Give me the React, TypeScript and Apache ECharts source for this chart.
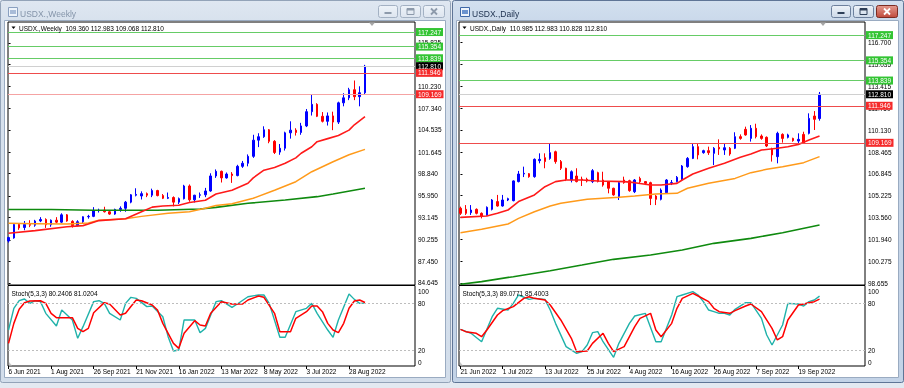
import React, { useEffect, useRef } from 'react';
import * as echarts from 'echarts';

// ---------------- data ----------------
const TICK_STEP = 8;
const weeklyTickLabels = ['6 Jun 2021', '1 Aug 2021', '26 Sep 2021', '21 Nov 2021', '16 Jan 2022', '13 Mar 2022', '8 May 2022', '3 Jul 2022', '28 Aug 2022'];
const dailyTickLabels = ['21 Jun 2022', '1 Jul 2022', '13 Jul 2022', '25 Jul 2022', '4 Aug 2022', '16 Aug 2022', '26 Aug 2022', '7 Sep 2022', '19 Sep 2022'];

const weeklyPriceTicks = [84.645, 87.45, 90.255, 93.145, 95.95, 98.84, 101.645, 104.535, 107.34, 110.23, 113.035, 115.825];
const dailyPriceTicks = [98.655, 100.275, 101.94, 103.56, 105.225, 106.845, 108.465, 110.13, 111.75, 113.415, 115.035, 116.7];

const resistanceLevels = [117.247, 115.354, 113.839];
const supportLevels = [111.946, 109.169];

const weeklyOpen = [90.1, 90.5, 92.25, 91.85, 92.25, 92.15, 92.7, 92.9, 92.2, 92.8, 92.55, 93.5, 92.65, 92.1, 92.6, 93.25, 93.3, 94.05, 94.1, 93.9, 93.6, 94.2, 94.35, 95.15, 96.05, 95.95, 96.25, 96.05, 96.65, 96.0, 95.65, 95.75, 95.15, 95.6, 97.25, 95.45, 96.05, 96.1, 96.6, 98.55, 99.15, 98.3, 98.8, 98.6, 99.8, 100.2, 101.1, 103.2, 103.65, 104.55, 103.05, 101.65, 102.15, 104.15, 104.5, 104.2, 105.05, 106.9, 107.85, 106.3, 105.65, 106.35, 105.55, 108.05, 108.7, 109.75, 108.85, 109.36];
const weeklyClose = [90.55, 92.25, 91.8, 92.25, 92.15, 92.7, 92.9, 92.2, 92.8, 92.55, 93.5, 92.7, 92.1, 92.6, 93.25, 93.3, 94.05, 94.1, 93.9, 93.6, 94.2, 94.35, 95.15, 96.1, 96.15, 96.25, 96.05, 96.65, 96.0, 95.65, 95.75, 95.15, 95.6, 97.25, 95.45, 96.05, 96.1, 96.6, 98.55, 99.15, 98.3, 98.8, 98.6, 99.8, 100.2, 101.1, 103.2, 103.65, 104.55, 103.05, 101.6, 102.15, 104.15, 104.5, 104.2, 105.05, 106.9, 107.85, 106.3, 105.65, 106.35, 105.55, 108.05, 108.7, 109.75, 108.85, 109.36, 112.81];
const weeklyLow = [89.9, 90.4, 91.55, 91.5, 91.9, 91.95, 92.55, 91.8, 91.95, 92.4, 92.45, 92.6, 91.85, 92.0, 92.35, 93.0, 93.2, 93.8, 93.8, 93.5, 93.5, 93.9, 93.9, 95.0, 95.9, 95.5, 95.8, 95.8, 95.9, 95.55, 95.55, 94.6, 94.9, 95.5, 95.2, 95.1, 95.7, 95.8, 96.5, 98.3, 97.7, 98.2, 97.65, 98.5, 99.6, 99.8, 100.9, 102.3, 103.5, 102.8, 101.4, 101.3, 101.85, 103.4, 103.8, 103.9, 104.9, 106.4, 106.2, 105.5, 105.1, 104.5, 105.3, 107.6, 108.4, 108.4, 107.6, 109.068];
const weeklyHigh = [90.65, 92.4, 92.4, 92.7, 92.8, 92.85, 93.2, 93.05, 92.9, 93.2, 93.7, 93.6, 92.8, 92.8, 93.3, 93.5, 94.5, 94.3, 94.55, 94.0, 94.3, 94.6, 95.3, 96.2, 96.95, 96.55, 96.4, 96.9, 96.75, 96.2, 96.4, 95.9, 95.75, 97.4, 97.45, 96.1, 96.4, 97.0, 98.9, 99.4, 99.25, 99.0, 99.05, 100.0, 100.5, 101.35, 103.9, 104.1, 105.0, 104.65, 103.2, 102.7, 104.3, 105.65, 104.75, 105.45, 107.25, 109.1, 108.0, 106.85, 106.8, 106.9, 108.2, 109.3, 110.0, 110.95, 110.2, 112.983];

const dailyOpen = [104.26, 104.18, 103.93, 104.18, 103.88, 103.76, 104.18, 104.76, 104.43, 104.88, 104.83, 106.26, 106.83, 106.85, 106.63, 107.83, 108.05, 108.0, 108.5, 107.76, 107.26, 106.38, 106.68, 106.45, 106.43, 106.26, 106.93, 106.38, 106.26, 105.76, 105.13, 106.38, 106.33, 105.5, 106.5, 106.26, 106.18, 105.18, 104.93, 105.43, 106.15, 106.26, 106.38, 107.38, 108.0, 108.88, 108.43, 108.58, 108.38, 108.83, 108.63, 108.76, 108.76, 109.63, 110.18, 109.5, 110.26, 109.68, 109.58, 108.68, 108.13, 109.8, 109.58, 109.5, 109.3, 109.8, 109.88, 111.18, 110.985];
const dailyClose = [103.88, 103.88, 104.13, 103.88, 103.68, 104.33, 104.88, 104.43, 104.88, 104.98, 106.31, 106.83, 106.88, 106.63, 107.93, 107.93, 107.76, 108.43, 107.76, 107.26, 106.43, 107.0, 106.26, 106.38, 106.3, 107.08, 106.26, 106.0, 105.76, 105.26, 106.18, 106.18, 105.58, 106.38, 106.26, 106.13, 105.0, 104.93, 105.63, 106.38, 106.18, 106.58, 107.43, 108.0, 108.88, 108.26, 108.58, 108.43, 108.76, 108.71, 108.8, 108.33, 109.63, 109.5, 109.76, 110.26, 109.63, 109.5, 108.93, 108.26, 109.88, 109.5, 109.76, 109.33, 109.43, 109.13, 111.0, 110.93, 112.81];
const dailyLow = [103.76, 103.76, 103.76, 103.8, 103.5, 103.7, 104.1, 104.38, 104.38, 104.8, 104.78, 106.2, 106.6, 106.55, 106.55, 107.63, 107.26, 107.9, 107.6, 107.13, 106.3, 106.2, 106.2, 105.93, 106.2, 106.15, 106.2, 105.88, 105.38, 105.2, 104.88, 106.1, 105.5, 105.4, 106.15, 106.0, 104.5, 104.5, 104.85, 105.35, 106.0, 106.2, 106.3, 107.3, 107.95, 107.93, 108.35, 108.26, 107.5, 108.26, 108.26, 108.2, 108.7, 109.4, 109.7, 109.26, 109.5, 109.4, 108.85, 107.76, 107.63, 109.18, 109.5, 109.25, 109.13, 109.08, 109.8, 110.13, 110.828];
const dailyHigh = [104.38, 104.5, 104.5, 104.25, 103.95, 104.4, 104.95, 105.26, 105.26, 105.05, 106.35, 107.06, 107.38, 106.9, 108.0, 108.38, 108.38, 109.13, 108.58, 107.88, 107.3, 107.1, 107.26, 106.63, 106.55, 107.2, 107.0, 107.0, 106.3, 105.8, 106.25, 106.63, 106.4, 106.45, 106.63, 106.3, 106.25, 105.25, 105.75, 106.45, 106.38, 106.68, 107.5, 108.1, 109.08, 109.13, 108.65, 108.88, 108.85, 109.43, 109.13, 108.85, 109.96, 109.8, 110.38, 110.5, 110.6, 109.8, 109.65, 108.8, 110.0, 109.88, 109.85, 109.55, 109.88, 110.0, 111.38, 111.55, 112.983];

// moving averages: [bar index, value]
const weeklyMaFast = [[0, 91.1], [5, 91.45], [11, 91.96], [14, 92.1], [15, 92.3], [17, 92.75], [22, 93.0], [25, 93.9], [27, 94.5], [29, 94.65], [32, 94.75], [34, 95.1], [36, 95.3], [37, 95.4], [39, 96.2], [42, 96.7], [45, 97.6], [46, 98.3], [48, 99.3], [50, 99.65], [52, 100.2], [54, 100.9], [55, 101.5], [57, 102.35], [58, 103.0], [60, 103.4], [62, 103.8], [64, 104.5], [65, 105.2], [67, 106.25]];
const weeklyMaMid = [[0, 92.4], [5, 92.35], [11, 92.3], [15, 92.45], [17, 92.8], [22, 93.0], [25, 93.3], [30, 93.7], [34, 93.9], [37, 94.35], [39, 94.7], [42, 94.95], [46, 95.65], [50, 96.7], [54, 97.8], [57, 99.1], [61, 100.4], [64, 101.3], [67, 102.0]];
const weeklyMaSlow = [[0, 94.2], [8, 94.2], [16, 94.1], [28, 94.1], [36, 94.25], [39, 94.47], [45, 95.0], [52, 95.43], [58, 95.86], [61, 96.2], [67, 96.95]];

const dailyMaFast = [[0, 103.58], [5, 103.68], [7, 103.88], [9, 104.13], [11, 104.76], [14, 105.26], [16, 105.88], [18, 106.26], [20, 106.38], [23, 106.38], [26, 106.3], [31, 106.26], [33, 106.18], [36, 106.0], [38, 106.0], [41, 106.13], [42, 106.38], [44, 106.83], [47, 107.26], [50, 107.63], [53, 108.08], [55, 108.33], [57, 108.63], [60, 108.76], [62, 108.88], [64, 109.05], [66, 109.38], [68, 109.68]];
const dailyMaMid = [[0, 102.43], [4, 102.68], [9, 103.08], [11, 103.5], [14, 104.0], [17, 104.43], [19, 104.63], [24, 104.93], [30, 105.08], [33, 105.18], [37, 105.33], [41, 105.38], [43, 105.76], [47, 106.13], [52, 106.5], [55, 106.93], [58, 107.18], [61, 107.38], [65, 107.68], [68, 108.13]];
const dailyMaSlow = [[0, 98.56], [4, 98.76], [10, 99.13], [17, 99.58], [23, 100.0], [29, 100.43], [36, 100.76], [42, 101.13], [48, 101.63], [55, 102.0], [61, 102.43], [68, 103.0]];

// stochastic (5,3,3): [bar index, value]
const weeklyStochMain = [[0, 45.9], [1, 73.6], [2, 83.3], [3, 85.5], [4, 79.9], [5, 83.3], [6, 82.1], [7, 67.2], [9, 51.0], [10, 71.4], [11, 65.1], [12, 58.7], [13, 35.3], [14, 50.2], [16, 82.1], [17, 83.3], [18, 79.9], [19, 67.2], [21, 58.7], [22, 79.9], [23, 87.6], [24, 86.3], [26, 75.7], [27, 76.5], [29, 62.9], [30, 37.4], [31, 19.1], [32, 20.4], [33, 58.7], [35, 58.7], [36, 42.5], [37, 48.0], [39, 82.1], [40, 83.3], [42, 74.8], [43, 79.1], [45, 88.4], [47, 90.6], [48, 90.6], [49, 79.9], [51, 36.6], [52, 36.6], [54, 69.3], [56, 73.6], [57, 79.9], [58, 67.2], [60, 45.9], [61, 36.6], [62, 58.7], [64, 91.8], [65, 85.0], [66, 79.9], [67, 80.2406]];
const weeklyStochSignal = [[0, 28.9], [1, 54.4], [2, 72.3], [3, 80.8], [4, 82.9], [6, 83.3], [7, 79.9], [8, 67.2], [9, 61.7], [11, 61.7], [12, 61.7], [13, 48.0], [14, 43.8], [15, 48.0], [16, 68.0], [18, 80.8], [19, 79.1], [21, 65.1], [22, 67.2], [23, 76.0], [24, 84.2], [25, 83.3], [27, 77.8], [28, 71.4], [29, 54.4], [31, 28.9], [32, 22.5], [33, 41.7], [35, 57.8], [36, 52.3], [37, 51.0], [38, 67.2], [40, 82.1], [42, 79.1], [44, 79.1], [45, 84.2], [47, 89.3], [48, 87.6], [50, 67.2], [51, 43.8], [53, 43.8], [54, 60.8], [56, 69.3], [57, 76.5], [58, 76.5], [59, 69.3], [60, 54.4], [61, 45.9], [62, 42.5], [63, 54.4], [64, 73.6], [65, 82.9], [66, 84.2], [67, 81.0204]];
const dailyStochMain = [[0, 46.8], [2, 41.7], [4, 31.0], [6, 62.9], [7, 73.6], [9, 71.4], [10, 79.9], [11, 90.6], [13, 85.0], [14, 86.3], [16, 85.0], [17, 71.4], [18, 54.4], [20, 24.7], [22, 16.2], [23, 18.3], [24, 26.8], [25, 42.5], [26, 43.8], [27, 31.0], [29, 11.1], [30, 28.9], [32, 54.4], [33, 63.8], [35, 67.2], [37, 31.0], [38, 31.0], [40, 65.1], [41, 88.4], [42, 90.6], [44, 94.8], [45, 90.6], [46, 82.1], [47, 71.4], [48, 69.3], [49, 67.2], [50, 67.2], [51, 65.1], [52, 72.3], [54, 80.8], [55, 80.8], [57, 60.8], [58, 39.5], [59, 26.8], [60, 39.5], [61, 52.3], [62, 79.9], [64, 79.1], [65, 76.5], [66, 82.1], [67, 84.2], [68, 89.0771]];
const dailyStochSignal = [[0, 46.8], [1, 43.8], [3, 41.7], [4, 37.4], [5, 45.9], [7, 65.1], [8, 70.6], [10, 75.7], [12, 86.3], [13, 88.4], [14, 86.3], [16, 84.2], [17, 77.8], [19, 58.7], [21, 35.3], [22, 18.3], [24, 19.1], [25, 28.9], [27, 41.7], [28, 28.9], [29, 18.3], [31, 24.7], [33, 50.2], [34, 60.8], [36, 67.2], [37, 45.9], [38, 37.4], [40, 54.4], [41, 73.6], [42, 86.3], [44, 92.7], [45, 89.3], [47, 82.1], [48, 73.6], [49, 69.3], [51, 67.2], [52, 70.6], [54, 76.5], [55, 79.1], [57, 69.3], [59, 48.0], [60, 33.2], [61, 37.4], [62, 58.7], [64, 77.8], [65, 79.1], [66, 80.8], [67, 82.1], [68, 85.4003]];

const stochLevels = [20, 80];
const stochLabels = [0, 20, 80, 100];

// ---------------- layout / style ----------------
const FONT = '"Liberation Sans", Arial, sans-serif';
const FS = 6.5;

type Panel = {
  left: number; width: number; xMin: number; xMax: number;
  yMin: number; yMax: number; priceTicks: number[]; tickLabels: string[];
  open: number[]; close: number[]; low: number[]; high: number[];
  maFast: number[][]; maMid: number[][]; maSlow: number[][];
  stMain: number[][]; stSignal: number[][];
  name: string; pale109: boolean; markerX: number;
};

const panels: Panel[] = [
  {
    left: 8, width: 407, xMin: -0.1, xMax: 76.4, yMin: 84.385, yMax: 118.551,
    priceTicks: weeklyPriceTicks, tickLabels: weeklyTickLabels,
    open: weeklyOpen, close: weeklyClose, low: weeklyLow, high: weeklyHigh,
    maFast: weeklyMaFast, maMid: weeklyMaMid, maSlow: weeklyMaSlow,
    stMain: weeklyStochMain, stSignal: weeklyStochSignal, name: 'USDX.,Weekly', pale109: true, markerX: 372,
  },
  {
    left: 459, width: 406, xMin: -0.28, xMax: 76.61, yMin: 98.505, yMax: 118.23,
    priceTicks: dailyPriceTicks, tickLabels: dailyTickLabels,
    open: dailyOpen, close: dailyClose, low: dailyLow, high: dailyHigh,
    maFast: dailyMaFast, maMid: dailyMaMid, maSlow: dailyMaSlow,
    stMain: dailyStochMain, stSignal: dailyStochSignal, name: 'USDX.,Daily', pale109: false, markerX: 823,
  },
];

function buildOption() {
  const grid: any[] = [];
  const xAxis: any[] = [];
  const yAxis: any[] = [];
  const series: any[] = [];
  const title: any[] = [];

  panels.forEach((p, k) => {
    const gMain = k * 2;
    const gSt = k * 2 + 1;
    grid.push({ left: p.left, top: 22, width: p.width, height: 263, show: true, borderColor: '#000', borderWidth: 1, backgroundColor: '#fff' });
    grid.push({ left: p.left, top: 285.5, width: p.width, height: 80.5, show: true, borderColor: '#000', borderWidth: 1, backgroundColor: '#fff' });

    const tickIdx = p.tickLabels.map((_, i) => i * TICK_STEP);
    xAxis.push({ gridIndex: gMain, type: 'value', min: p.xMin, max: p.xMax, show: false });
    xAxis.push({
      gridIndex: gSt, type: 'value', min: p.xMin, max: p.xMax,
      axisLine: { show: false }, splitLine: { show: false },
      axisTick: { show: true, customValues: tickIdx, length: 3, lineStyle: { color: '#000' } },
      axisLabel: {
        customValues: tickIdx, formatter: (v: number) => p.tickLabels[Math.round(v / TICK_STEP)] || '',
        align: 'left', margin: 2, fontSize: FS, color: '#000', fontFamily: FONT,
      },
    });
    yAxis.push({
      gridIndex: gMain, type: 'value', position: 'right', min: p.yMin, max: p.yMax,
      axisLine: { show: false }, splitLine: { show: false },
      axisTick: { show: true, customValues: p.priceTicks, length: 2, lineStyle: { color: '#000' } },
      axisLabel: { customValues: p.priceTicks, formatter: (v: number) => v.toFixed(3), margin: 3, fontSize: FS, color: '#000', fontFamily: FONT },
    });
    yAxis.push({
      gridIndex: gSt, type: 'value', position: 'right', min: 0, max: 102.7,
      axisLine: { show: false }, splitLine: { show: false }, axisTick: { show: false },
      axisLabel: {
        customValues: stochLabels, formatter: (v: number) => String(v), margin: 3, fontSize: FS, color: '#000', fontFamily: FONT,
        verticalAlignMinLabel: 'bottom', verticalAlignMaxLabel: 'top',
      },
    });

    const last = p.close.length - 1;
    const lastClose = p.close[last];
    const levelData: any[] = [
      ...resistanceLevels.map((v) => ({ yAxis: v, lineStyle: { color: '#66cc66' }, label: { backgroundColor: '#33c433' } })),
      { yAxis: lastClose, lineStyle: { color: '#d0d0d0' }, label: { backgroundColor: '#000' } },
      ...supportLevels.map((v, i) => ({
        yAxis: v,
        lineStyle: { color: p.pale109 && i === 1 ? '#f5a3a3' : '#ee4c4c' },
        label: { backgroundColor: '#f52a2a' },
      })),
    ];

    series.push({
      type: 'candlestick', xAxisIndex: gMain, yAxisIndex: gMain,
      data: p.open.map((o, i) => [i, o, p.close[i], p.low[i], p.high[i]]),
      barWidth: 2,
      itemStyle: { color: '#0000ff', color0: '#ff0000', borderColor: '#0000ff', borderColor0: '#ff0000', borderWidth: 1 },
      z: 3,
      markLine: {
        silent: true, symbol: ['none', 'none'], animation: false, precision: 3,
        lineStyle: { type: 'solid', width: 1 },
        label: {
          show: true, position: 'end', distance: 1, color: '#fff', fontSize: FS, fontFamily: FONT,
          padding: [1, 2, 0, 2], formatter: (q: any) => Number(q.data && q.data.yAxis != null ? q.data.yAxis : q.value).toFixed(3),
        },
        data: levelData,
      },
    });
    const ma = (data: number[][], color: string, w: number) => ({
      type: 'line', xAxisIndex: gMain, yAxisIndex: gMain, data, symbol: 'none', showSymbol: false,
      lineStyle: { color, width: w }, z: 4,
    });
    series.push(ma(p.maSlow, '#0f8a0f', 1.6));
    series.push(ma(p.maMid, '#ff9a1a', 1.5));
    series.push(ma(p.maFast, '#ff1a1a', 1.6));

    series.push({
      type: 'line', xAxisIndex: gSt, yAxisIndex: gSt, data: p.stMain, symbol: 'none', showSymbol: false,
      lineStyle: { color: '#20b2aa', width: 1.4 },
      markLine: {
        silent: true, symbol: ['none', 'none'], animation: false, label: { show: false },
        lineStyle: { color: '#bdbdbd', type: [2, 2], width: 1 },
        data: stochLevels.map((v) => ({ yAxis: v })),
      },
    });
    series.push({
      type: 'line', xAxisIndex: gSt, yAxisIndex: gSt, data: p.stSignal, symbol: 'none', showSymbol: false,
      lineStyle: { color: '#ff0000', width: 1.5 },
    });

    const header = `${p.name}  ${p.open[last].toFixed(3)} ${p.high[last].toFixed(3)} ${p.low[last].toFixed(3)} ${lastClose.toFixed(3)}`;
    const stHeader = `Stoch(5,3,3) ${p.stMain[p.stMain.length - 1][1].toFixed(4)} ${p.stSignal[p.stSignal.length - 1][1].toFixed(4)}`;
    const ts = { fontSize: FS, fontWeight: 'normal', color: '#000', fontFamily: FONT };
    title.push({ text: header, left: p.left + 11, top: 24.5, padding: 0, textStyle: ts });
    title.push({ text: stHeader, left: p.left + 3.5, top: 289.5, padding: 0, textStyle: ts });
  });

  // window chrome
  const g: any[] = [];
  g.push({ type: 'rect', z: -20, silent: true, shape: { x: 0, y: 0, width: 904, height: 388 }, style: { fill: '#e3e9f1' } });
  const windows = [
    { x: 0, w: 451, active: false, title: 'USDX.,Weekly' },
    { x: 452, w: 452, active: true, title: 'USDX.,Daily' },
  ];
  windows.forEach((wd) => {
    g.push({
      type: 'rect', z: -19, silent: true, shape: { x: wd.x + 0.5, y: 0.5, width: wd.w - 1, height: 382, r: 2 },
      style: {
        fill: new echarts.graphic.LinearGradient(0, 0, 0, 1, [
          { offset: 0, color: wd.active ? '#d3e0ef' : '#dfe7f1' },
          { offset: 0.06, color: wd.active ? '#c9d8ea' : '#d7e1ed' },
          { offset: 1, color: wd.active ? '#c3d3e7' : '#d3deeb' },
        ]),
        stroke: wd.active ? '#5f7596' : '#93a3b8', lineWidth: 1,
      },
    });
    g.push({ type: 'rect', z: -18, silent: true, shape: { x: wd.x + 4.5, y: 20.5, width: wd.w - 10, height: 357 }, style: { fill: '#ffffff', stroke: '#9aabc1', lineWidth: 1 } });
    // icon
    const ix = wd.x + 8;
    g.push({ type: 'rect', z: 10, silent: true, shape: { x: ix + 0.5, y: 7.5, width: 9, height: 9 }, style: { fill: '#eef4fb', stroke: wd.active ? '#3f68a8' : '#8aa0c0', lineWidth: 1 } });
    g.push({ type: 'rect', z: 10, silent: true, shape: { x: ix + 2, y: 10, width: 6, height: 4 }, style: { fill: wd.active ? '#6b93cf' : '#a9bcd8' } });
    g.push({
      type: 'text', z: 10, silent: true, x: wd.x + 20, y: 13.5,
      style: { text: wd.title, fontSize: 8.5, fontFamily: FONT, fill: wd.active ? '#1c2f4d' : '#8494a9', verticalAlign: 'middle' },
    });
    // buttons
    const bx = wd.x + wd.w - 73;
    const btns = [
      { x: bx, w: 19, kind: 'min' },
      { x: bx + 22, w: 20, kind: 'max' },
      { x: bx + 45, w: 21, kind: 'close' },
    ];
    btns.forEach((b) => {
      const red = b.kind === 'close' && wd.active;
      g.push({
        type: 'rect', z: 10, silent: true, shape: { x: b.x + 0.5, y: 5.5, width: b.w, height: 12, r: 2 },
        style: {
          fill: red
            ? new echarts.graphic.LinearGradient(0, 0, 0, 1, [{ offset: 0, color: '#e49a8f' }, { offset: 1, color: '#c04a3b' }])
            : new echarts.graphic.LinearGradient(0, 0, 0, 1, [{ offset: 0, color: '#eef3f9' }, { offset: 1, color: wd.active ? '#cdd9e8' : '#dde5ef' }]),
          stroke: red ? '#7c2c22' : wd.active ? '#6d809d' : '#a3b1c3', lineWidth: 1,
        },
      });
      const cx = b.x + 0.5 + b.w / 2;
      const gc = red ? '#ffffff' : wd.active ? '#2e3f58' : '#8d9aab';
      if (b.kind === 'min') {
        g.push({ type: 'rect', z: 11, silent: true, shape: { x: cx - 3.5, y: 12, width: 7, height: 2 }, style: { fill: gc } });
      } else if (b.kind === 'max') {
        g.push({ type: 'rect', z: 11, silent: true, shape: { x: cx - 3.5, y: 8.5, width: 7, height: 6 }, style: { fill: 'none', stroke: gc, lineWidth: 1 } });
        g.push({ type: 'rect', z: 11, silent: true, shape: { x: cx - 3.5, y: 8.5, width: 7, height: 2 }, style: { fill: gc } });
      } else {
        g.push({ type: 'line', z: 11, silent: true, shape: { x1: cx - 3, y1: 8.5, x2: cx + 3, y2: 14.5 }, style: { stroke: gc, lineWidth: 1.8 } });
        g.push({ type: 'line', z: 11, silent: true, shape: { x1: cx + 3, y1: 8.5, x2: cx - 3, y2: 14.5 }, style: { stroke: gc, lineWidth: 1.8 } });
      }
    });
  });
  panels.forEach((p) => {
    // small black triangle before the header and grey shift marker
    g.push({ type: 'polygon', z: 20, silent: true, shape: { points: [[p.left + 3.5, 26.5], [p.left + 7.5, 26.5], [p.left + 5.5, 29]] }, style: { fill: '#000' } });
    const mx = p.markerX;
    g.push({ type: 'polygon', z: 20, silent: true, shape: { points: [[mx - 3, 22.5], [mx + 3, 22.5], [mx, 26]] }, style: { fill: '#a8a8a8' } });
    // small marker at the stoch bottom-left
    g.push({ type: 'polygon', z: 20, silent: true, shape: { points: [[p.left + 1, 365.5], [p.left + 1, 362], [p.left + 4, 365.5]] }, style: { fill: '#c8c8c8' } });
  });

  return {
    animation: false,
    textStyle: { fontFamily: FONT },
    title, grid, xAxis, yAxis, series, graphic: g,
  };
}

export default function App() {
  const ref = useRef<HTMLDivElement>(null);
  useEffect(() => {
    if (!ref.current) return;
    const chart = echarts.init(ref.current, undefined, { renderer: 'svg' });
    chart.setOption(buildOption() as any);
    return () => chart.dispose();
  }, []);
  return <div ref={ref} style={{ position: 'fixed', left: 0, top: 0, width: 904, height: 388 }} />;
}
